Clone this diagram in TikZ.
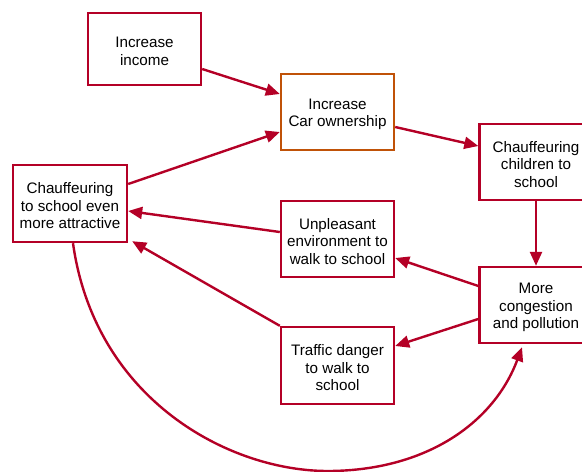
\documentclass[tikz,border=0pt]{standalone}
\usepackage{fontspec}
\setmainfont{Liberation Sans}
\usetikzlibrary{arrows.meta}
\definecolor{cred}{RGB}{180,0,38}
\definecolor{corange}{RGB}{192,82,8}
\tikzset{
  box/.style={draw=cred, line width=2.4pt, fill=white, minimum width=113pt, minimum height=76pt,
    inner sep=0pt},
  txt/.style={align=center, inner sep=0pt, yshift=-2.5pt, font=\fontsize{15.2}{17.5}\selectfont},
  link/.style={draw=cred, line width=2.4pt, -{Triangle[length=14pt,width=12pt]}},
}
\begin{document}
\begin{tikzpicture}[x=1pt,y=-1pt]
\useasboundingbox (0,0) rectangle (582,472);
\clip (0,0) rectangle (582,472);
\node[box, minimum height=72pt, label={[txt]center:{Increase\\income}}] (inc) at (144.5,49) {};
\node[box, draw=corange, label={[txt]center:{Increase\\Car ownership}}] (car) at (337.5,112) {};
\node[box, label={[txt]center:{Chauffeuring\\children to\\school}}] (chi) at (536,162) {};
\node[box, label={[txt]center:{More\\congestion\\and pollution}}] (con) at (536,305) {};
\node[box, minimum width=114pt, minimum height=77pt, label={[txt]center:{Chauffeuring\\to school even\\more attractive}}] (att) at (70,203.5) {};
\node[box, label={[txt]center:{Unpleasant\\environment to\\walk to school}}] (unp) at (337.5,239) {};
\node[box, minimum height=77pt, label={[txt]center:{Traffic danger\\to walk to\\school}}] (tra) at (337.5,365.5) {};

\draw[link] ([yshift=-20pt]inc.east) -- ([yshift=18pt]car.west);
\draw[link] ([yshift=19.5pt]att.east) -- ([yshift=-20pt]car.west);
\draw[link] ([yshift=-15pt]car.east) -- ([yshift=16pt]chi.west);
\draw[link] (chi.south) -- (con.north);
\draw[link] ([yshift=19pt]con.west) -- ([yshift=-19pt]unp.east);
\draw[link] ([yshift=-14pt]con.west) -- ([yshift=19.5pt]tra.east);
\draw[link] ([yshift=7pt]unp.west) -- ([yshift=-7.5pt]att.east);
\draw[link] (tra.north west) -- ([xshift=4pt,yshift=2pt]att.south east);
\draw[link] ([xshift=3pt]att.south) .. controls (95,400) and (230,472) .. (330,471)
  .. controls (430,470) and (495,420) .. ([xshift=-14pt,yshift=-3pt]con.south);
\end{tikzpicture}
\end{document}
